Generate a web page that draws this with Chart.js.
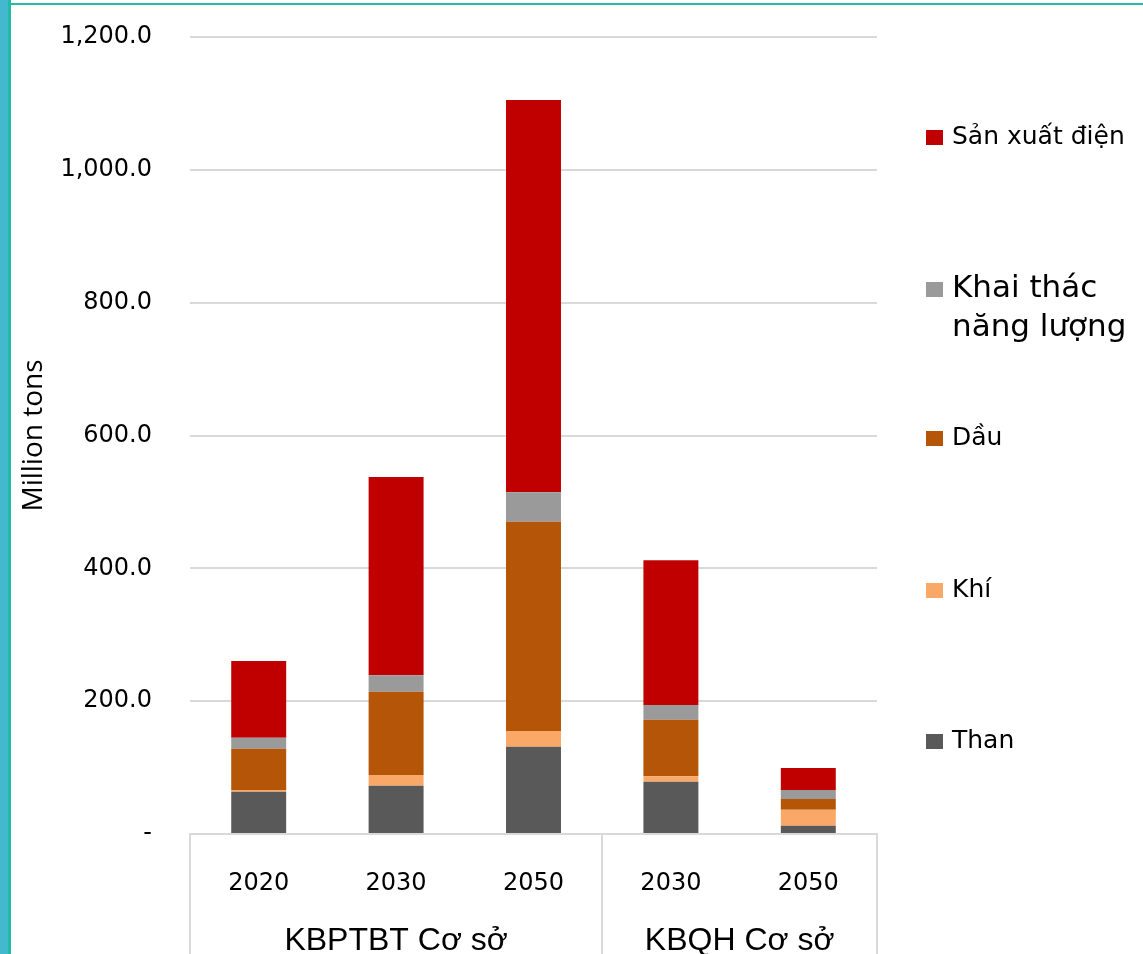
<!DOCTYPE html>
<html>
<head>
<meta charset="utf-8">
<script src="https://cdn.jsdelivr.net/npm/chart.js@4/dist/chart.umd.min.js"></script>
<style>
  body { margin: 0; background: #fff; }
  #wrap { position: relative; width: 1143px; height: 954px; overflow: hidden; }
  #chart { position: absolute; left: 0; top: 0; }
  .edge { position: absolute; }
</style>
</head>
<body>
<div id="wrap">
  <canvas id="chart" width="1143" height="954"></canvas>
  <div class="edge" style="left:0;top:0;width:8px;height:954px;background:#43b8cf"></div>
  <div class="edge" style="left:8px;top:0;width:3px;height:954px;background:#22bba3"></div>
  <div class="edge" style="left:8px;top:3px;width:1135px;height:2px;background:#22bba3"></div>
</div>
<script>
// categories
var years = ['2020', '2030', '2050', '2030', '2050']
var groups = ['KBPTBT Cơ sở', 'KBQH Cơ sở']
var groupSizes = [3, 2]
var yTicks = [0, 200, 400, 600, 800, 1000, 1200]

// series (million tons)
var than = [63.7, 72.7, 131.5, 78.8, 12.5]
var khi = [2.5, 16.1, 23.6, 8.1, 24.1]
var dau = [62.3, 125.4, 315.1, 85.2, 16.1]
var khaiThac = [16.6, 24.7, 44.2, 22.1, 13.5]
var sanXuatDien = [115.5, 298.6, 590.6, 217.8, 33.2]

var names = ['Than', 'Khí', 'Dầu', 'Khai thác năng lượng', 'Sản xuất điện']
var colors = ['#595959', '#faa867', '#b45507', '#9a9a9a', '#c00000']

var gridColor = '#d9d9d9'

function fmt(v) {
    if (v === 0) return '-'
    return v.toLocaleString('en-US', { minimumFractionDigits: 1, maximumFractionDigits: 1 })
}

// group labels and separator lines under the x axis
var groupAxis = {
    id: 'groupAxis',
    afterDraw: function (chart) {
        var ctx = chart.ctx
        var x = chart.scales.x
        var area = chart.chartArea
        var half = (x.getPixelForValue(1) - x.getPixelForValue(0)) / 2
        ctx.save()
        ctx.strokeStyle = gridColor
        ctx.lineWidth = 2
        var start = 0
        var bounds = [x.getPixelForValue(0) - half]
        groups.forEach(function (g, i) {
            var end = start + groupSizes[i] - 1
            bounds.push(x.getPixelForValue(end) + half)
            var cx = (x.getPixelForValue(start) + x.getPixelForValue(end)) / 2
            ctx.fillStyle = '#000'
            ctx.font = '32px "Liberation Sans"'
            ctx.textAlign = 'center'
            ctx.textBaseline = 'middle'
            ctx.fillText(g, cx, 941)
            start = end + 1
        })
        bounds.forEach(function (bx) {
            ctx.beginPath()
            ctx.moveTo(Math.round(bx), area.bottom)
            ctx.lineTo(Math.round(bx), chart.height)
            ctx.stroke()
        })
        ctx.restore()
    }
}

// legend on the right, top series first
var sideLegend = {
    id: 'sideLegend',
    afterDraw: function (chart) {
        var ctx = chart.ctx
        var ys = [137, 289, 438, 590, 741]
        var sizes = [25, 31, 25, 25, 25]
        var items = chart.data.datasets.slice().reverse()
        ctx.save()
        items.forEach(function (ds, i) {
            ctx.fillStyle = ds.backgroundColor
            ctx.fillRect(926, ys[i] - 7, 17, 15)
            ctx.fillStyle = '#000'
            ctx.font = sizes[i] + 'px "DejaVu Sans"'
            ctx.textAlign = 'left'
            ctx.textBaseline = 'middle'
            var words = ds.label.split(' ')
            var lines = [], line = ''
            words.forEach(function (w) {
                var t = line ? line + ' ' + w : w
                if (ctx.measureText(t).width > 185 && line) {
                    lines.push(line)
                    line = w
                } else {
                    line = t
                }
            })
            lines.push(line)
            lines.forEach(function (l, j) {
                ctx.fillText(l, 952, ys[i] + j * 39)
            })
        })
        ctx.restore()
    }
}

var series = [than, khi, dau, khaiThac, sanXuatDien]

var chart = new Chart(document.getElementById('chart').getContext('2d'), {
    type: 'bar',
    data: {
        labels: years,
        datasets: series.map(function (d, i) {
            return {
                label: names[i],
                data: d,
                backgroundColor: colors[i],
                borderWidth: 0,
                barPercentage: 0.4,
                categoryPercentage: 1
            }
        })
    },
    options: {
        responsive: false,
        animation: false,
        layout: { padding: { top: 37, right: 266, left: 0, bottom: 0 } },
        plugins: {
            legend: { display: false },
            tooltip: { enabled: false }
        },
        scales: {
            x: {
                stacked: true,
                grid: { display: false },
                border: { display: true, color: gridColor, width: 2 },
                ticks: {
                    color: '#000',
                    font: { family: 'DejaVu Sans', size: 24 },
                    padding: 27,
                    maxRotation: 0
                },
                afterFit: function (s) { s.height = 120 }
            },
            y: {
                stacked: true,
                min: 0,
                max: 1200,
                afterBuildTicks: function (s) {
                    s.ticks = yTicks.map(function (v) { return { value: v } })
                },
                grid: { color: gridColor, lineWidth: 2, drawTicks: false },
                border: { display: false },
                ticks: {
                    color: '#000',
                    font: { family: 'DejaVu Sans', size: 24 },
                    padding: 38,
                    callback: function (v) { return fmt(v) }
                },
                title: {
                    display: true,
                    text: 'Million tons',
                    color: '#000',
                    font: { family: 'Open Sans', size: 28 },
                    padding: { top: 17, bottom: 0 }
                },
                afterFit: function (s) {
                    s.width = 190
                    s.paddingTop = 0
                    s.paddingBottom = 0
                }
            }
        }
    },
    plugins: [groupAxis, sideLegend]
})
</script>
</body>
</html>
